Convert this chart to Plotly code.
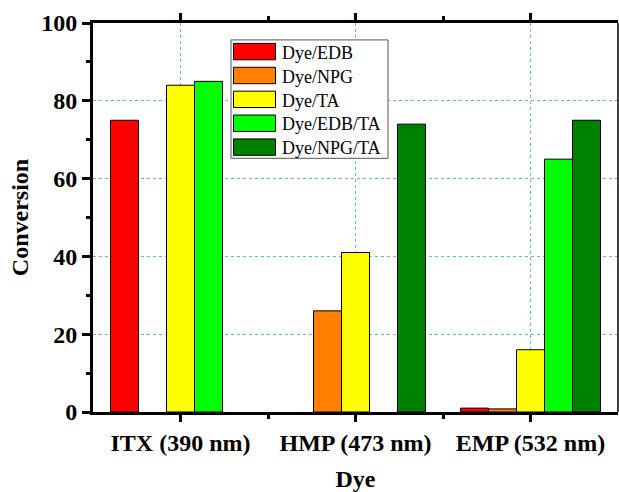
import plotly.graph_objects as go

categories = ["ITX (390 nm)", "HMP (473 nm)", "EMP (532 nm)"]
series_names = ["Dye/EDB", "Dye/NPG", "Dye/TA", "Dye/EDB/TA", "Dye/NPG/TA"]
edb = [75, None, 1]
npg = [None, 26, 0.8]
ta = [84, 41, 16]
edb_ta = [85, None, 65]
npg_ta = [None, 74, 75]
series_values = [edb, npg, ta, edb_ta, npg_ta]
colors = ["#ff0000", "#ff8000", "#ffff00", "#00ff00", "#008000"]
y_ticks = [0, 20, 40, 60, 80, 100]

W, H = 619, 492
L, R, T, B = 93, 1, 23, 78
PW, PH = W - L - R, H - T - B

def px(xp):
    return (xp - L) / PW

def py(yp):
    return (H - B - yp) / PH

FONT = "Liberation Serif, Times New Roman, serif"
xpos = list(range(len(categories)))

fig = go.Figure()
for name, vals, col in zip(series_names, series_values, colors):
    fig.add_trace(go.Bar(
        x=xpos, y=vals, name=name, showlegend=False,
        marker=dict(color=col, line=dict(color="black", width=1)),
    ))

fig.update_layout(
    width=W, height=H,
    margin=dict(l=L, r=R, t=T, b=B),
    paper_bgcolor="white", plot_bgcolor="white",
    barmode="group", bargap=0.2, bargroupgap=0,
    font=dict(family=FONT, color="black"),
)

fig.update_xaxes(
    range=[-0.5, 2.5],
    tickmode="array", tickvals=xpos, ticktext=categories,
    tickfont=dict(family=FONT, size=24, weight="bold", color="black"),
    ticks="outside", ticklen=7, tickwidth=3, tickcolor="black",
    minor=dict(tickmode="array", tickvals=[0.5, 1.5], ticks="outside",
               ticklen=4, tickwidth=3, tickcolor="black", showgrid=False),
    showline=True, linewidth=3, linecolor="black", mirror="ticks",
    showgrid=True, gridcolor="#5fbcbc", gridwidth=1, griddash="dot",
    zeroline=False,
    title=dict(text="Dye", font=dict(family=FONT, size=24, weight="bold"), standoff=18),
)
fig.update_yaxes(
    range=[0, 100],
    tickmode="array", tickvals=y_ticks,
    tickfont=dict(family=FONT, size=24, weight="bold", color="black"),
    ticks="outside", ticklen=8, tickwidth=3, tickcolor="black",
    minor=dict(dtick=10, ticks="outside", ticklen=4, tickwidth=3, tickcolor="black", showgrid=False),
    showline=True, linewidth=3, linecolor="black", mirror=False,
    showgrid=True, gridcolor="#5fbcbc", gridwidth=1, griddash="dot",
    zeroline=False,
    title=dict(text="Conversion", font=dict(family=FONT, size=24, weight="bold"), standoff=6),
)

shapes = []
# right border (thin)
shapes.append(dict(type="line", xref="paper", yref="paper", x0=1, x1=1, y0=0, y1=1,
                   line=dict(color="black", width=1.5)))
# legend box
shapes.append(dict(type="rect", xref="paper", yref="paper",
                   x0=px(231), x1=px(388), y0=py(159), y1=py(40),
                   fillcolor="white", line=dict(color="#555555", width=1), layer="above"))
annotations = []
for i, (name, col) in enumerate(zip(series_names, colors)):
    top = 43.5 + 24 * i
    shapes.append(dict(type="rect", xref="paper", yref="paper",
                       x0=px(233.5), x1=px(275.5), y0=py(top + 16.5), y1=py(top),
                       fillcolor=col, line=dict(color="black", width=1), layer="above"))
    annotations.append(dict(xref="paper", yref="paper", x=px(280), y=py(top + 9.5),
                            text=name, showarrow=False, xanchor="left", yanchor="middle",
                            font=dict(family=FONT, size=18, color="black")))
fig.update_layout(shapes=shapes, annotations=annotations)

fig.write_html("out.html")
